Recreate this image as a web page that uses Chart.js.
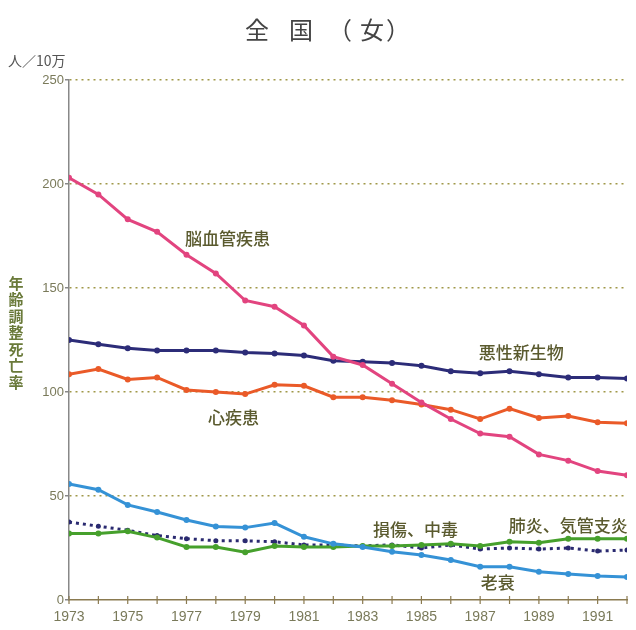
<!DOCTYPE html>
<html>
<head>
<meta charset="utf-8">
<script src="https://cdn.jsdelivr.net/npm/chart.js@4.4.0/dist/chart.umd.min.js"></script>
<style>
  body { margin: 0; background: #fff; }
  #wrap { width: 636px; height: 630px; }
</style>
</head>
<body>
<div id="wrap"><canvas id="deathChart" width="636" height="630"></canvas></div>
<script>
// 年次
const years = [1973, 1974, 1975, 1976, 1977, 1978, 1979, 1980, 1981, 1982,
               1983, 1984, 1985, 1986, 1987, 1988, 1989, 1990, 1991, 1992];

// 年齢調整死亡率（人/10万）
const cerebro    = [203, 195, 183, 177, 166, 157, 144, 141, 132, 117, 113, 104, 95, 87, 80, 78.5, 70, 67, 62, 60];
const malignant  = [125, 123, 121, 120, 120, 120, 119, 118.5, 117.5, 115, 114.6, 114, 112.6, 110, 109, 110, 108.5, 107, 107, 106.5];
const heart      = [108.5, 111, 106, 107, 101, 100, 99, 103.5, 103, 97.5, 97.5, 96, 94, 91.5, 87, 92, 87.5, 88.5, 85.5, 85];
const senility   = [55.8, 53, 45.7, 42.3, 38.5, 35.3, 34.8, 37, 30.4, 27, 25.5, 23.2, 21.6, 19.2, 16, 16, 13.6, 12.5, 11.5, 11];
const pneumonia  = [32, 32, 33, 30, 25.5, 25.5, 23, 26, 25.5, 25.5, 26, 26, 26.5, 27, 26, 28, 27.5, 29.5, 29.5, 29.5];
const injury     = [37.5, 35.5, 33.5, 31, 29.5, 28.5, 28.5, 28, 26.5, 26.5, 26, 26.5, 25, 26.5, 24.5, 25, 24.5, 25, 23.5, 24];

const yTicks = [0, 50, 100, 150, 200, 250];

// 系列ラベル（データ座標で配置）
const seriesLabels = [
    { text: '脳血管疾患', x: 1978.4, y: 174 },
    { text: '悪性新生物', x: 1988.4, y: 119 },
    { text: '心疾患', x: 1978.6, y: 87.5 },
    { text: '損傷、中毒', x: 1984.8, y: 34 },
    { text: '肺炎、気管支炎', x: 1990.0, y: 36 },
    { text: '老衰', x: 1987.6, y: 8.3 }
];

const toPoints = arr => arr.map((v, i) => ({ x: years[i], y: v }));

function lineSet(label, data, color, extra) {
    return Object.assign({
        label: label,
        data: toPoints(data),
        borderColor: color,
        backgroundColor: color,
        borderWidth: 3,
        pointRadius: 3,
        pointHoverRadius: 3,
        pointBorderWidth: 0,
        tension: 0,
        fill: false
    }, extra || {});
}

// 文字・目盛りの描画
const annotatePlugin = {
    id: 'annotate',
    afterDraw(chart) {
        const ctx = chart.ctx;
        const xs = chart.scales.x;
        const ys = chart.scales.y;
        ctx.save();

        // x軸の目盛り（十字）
        ctx.strokeStyle = '#8a7a50';
        ctx.lineWidth = 1.2;
        const yb = ys.getPixelForValue(0);
        years.forEach(yr => {
            const px = xs.getPixelForValue(yr);
            ctx.beginPath();
            ctx.moveTo(px, yb - 4);
            ctx.lineTo(px, yb + 4);
            ctx.stroke();
        });

        // タイトル（一文字ずつ）
        ctx.fillStyle = '#444';
        ctx.font = '24px "Noto Sans CJK JP"';
        ctx.textAlign = 'center';
        ctx.textBaseline = 'middle';
        const title = [['全', 257], ['国', 301], ['（', 340], ['女', 372], ['）', 398]];
        title.forEach(t => ctx.fillText(t[0], t[1], 30));

        // 単位
        ctx.font = '14px "Noto Sans CJK JP"';
        ctx.textAlign = 'left';
        ctx.fillStyle = '#555';
        ctx.fillText('人／10万', 8, 61);

        // 縦の軸タイトル
        ctx.fillStyle = '#6a7a3a';
        ctx.font = 'bold 15px "Noto Sans CJK JP"';
        ctx.textAlign = 'center';
        const vt = '年齢調整死亡率';
        for (let i = 0; i < vt.length; i++) {
            ctx.fillText(vt[i], 16, 283 + i * 16.5);
        }

        // 系列ラベル
        ctx.fillStyle = '#5a5a2e';
        ctx.font = '500 17px "Noto Sans CJK JP"';
        seriesLabels.forEach(l => {
            ctx.fillText(l.text, xs.getPixelForValue(l.x), ys.getPixelForValue(l.y));
        });
        ctx.restore();
    }
};

const chart = new Chart(document.getElementById('deathChart'), {
    type: 'line',
    data: {
        datasets: [
            lineSet('脳血管疾患', cerebro, '#e2447f'),
            lineSet('悪性新生物', malignant, '#2c2c78'),
            lineSet('心疾患', heart, '#ea5a28'),
            lineSet('老衰', senility, '#3592d6'),
            lineSet('肺炎、気管支炎', pneumonia, '#46a02c'),
            lineSet('損傷、中毒', injury, '#2a2a70', { borderDash: [3, 4], pointRadius: 2.5 })
        ]
    },
    options: {
        responsive: false,
        animation: false,
        layout: { padding: { top: 80, right: 7, left: 0, bottom: 0 } },
        plugins: {
            legend: { display: false },
            title: { display: false },
            tooltip: { enabled: false }
        },
        scales: {
            x: {
                type: 'linear',
                min: 1973,
                max: 1992,
                afterFit: s => { s.height = 30; },
                ticks: {
                    stepSize: 1,
                    autoSkip: false,
                    maxRotation: 0,
                    padding: 9,
                    color: '#7a7a5a',
                    font: { family: 'Liberation Sans', size: 14 },
                    callback: v => (v % 2 === 1 ? String(v) : '')
                },
                grid: { display: true, drawOnChartArea: false, drawTicks: false },
                border: { color: '#8a7a50', width: 1.5 }
            },
            y: {
                min: 0,
                max: 250,
                afterFit: s => { s.width = 69; },
                afterBuildTicks: s => { s.ticks = yTicks.map(v => ({ value: v })); },
                ticks: {
                    padding: 1,
                    color: '#7a7a5a',
                    font: { family: 'Liberation Sans', size: 13 }
                },
                grid: {
                    color: c => (c.tick && c.tick.value === 0 ? 'rgba(0,0,0,0)' : '#a09848'),
                    lineWidth: 1.5,
                    tickColor: '#888',
                    tickLength: 4
                },
                border: { color: '#888', width: 1.5, dash: [2, 4] }
            }
        }
    },
    plugins: [annotatePlugin]
});
</script>
</body>
</html>
